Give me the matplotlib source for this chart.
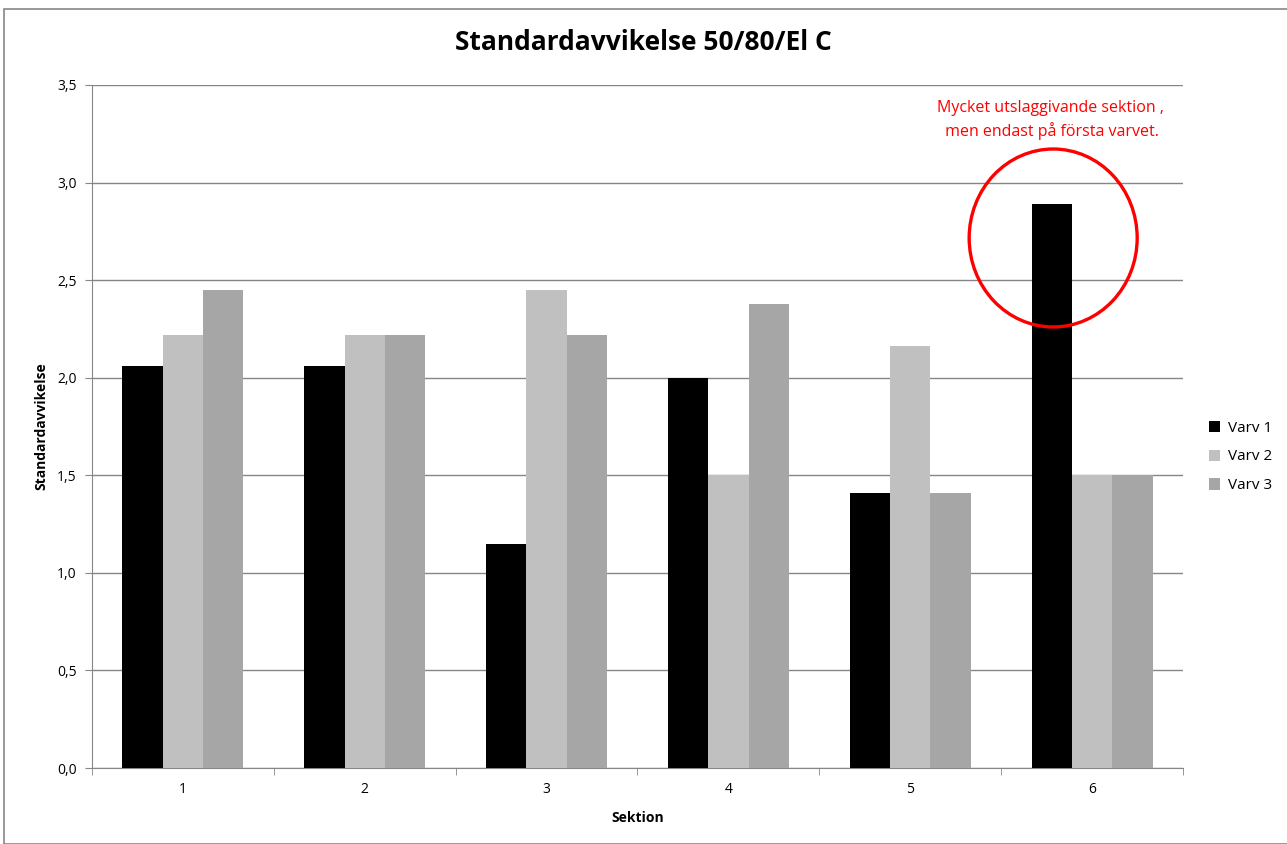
import matplotlib
matplotlib.use("Agg")
import matplotlib.pyplot as plt
from matplotlib.patches import Ellipse, Rectangle
import numpy as np

plt.rcParams['font.family'] = ['Open Sans', 'DejaVu Sans']

sections = ["1", "2", "3", "4", "5", "6"]
varv1 = [2.06, 2.06, 1.15, 2.00, 1.41, 2.89]
varv2 = [2.22, 2.22, 2.45, 1.50, 2.16, 1.50]
varv3 = [2.45, 2.22, 2.22, 2.38, 1.41, 1.50]
series_names = ["Varv 1", "Varv 2", "Varv 3"]
colors = ["#000000", "#C0C0C0", "#A6A6A6"]
yticks = [0.0, 0.5, 1.0, 1.5, 2.0, 2.5, 3.0, 3.5]

W, H = 1287, 844
fig = plt.figure(figsize=(W/100, H/100), dpi=100)
ax = fig.add_axes([92/W, 1-768/H, (1183-92)/W, (768-85)/H])

x = np.arange(len(sections))
bw = 0.222
for i, (vals, name, c) in enumerate(zip([varv1, varv2, varv3], series_names, colors)):
    ax.bar(x + (i-1)*bw, vals, width=bw, color=c, label=name, zorder=3)

ax.set_xlim(-0.5, len(sections)-0.5)
ax.set_ylim(0, 3.5)
ax.set_yticks(yticks)
ax.set_yticklabels([f"{v:.1f}".replace(".", ",") for v in yticks], fontsize=10)
ax.set_xticks(x)
ax.set_xticklabels(sections, fontsize=10)
ax.set_xticks(np.arange(-0.5, len(sections)), minor=True)
ax.tick_params(axis='x', which='major', length=0, pad=10)
ax.tick_params(axis='x', which='minor', length=5, color='#868686')
ax.tick_params(axis='y', length=5, color='#868686', pad=6)
ax.grid(axis='y', color='#868686', linewidth=1, zorder=0)
for s in ['top', 'right']:
    ax.spines[s].set_visible(False)
for s in ['left', 'bottom']:
    ax.spines[s].set_color('#868686')

ax.set_xlabel("Sektion", fontsize=10, fontweight='bold', labelpad=10)
ax.set_ylabel("Standardavvikelse", fontsize=10, fontweight='bold', labelpad=6)

fig.text(0.5, 1-43/H, "Standardavvikelse 50/80/El C", ha='center', va='center',
         fontsize=19, fontweight='bold')

ax.add_patch(Ellipse((4.786, 2.716), 0.924, 0.912, fill=False, edgecolor='#FF0000',
                     linewidth=2.4, zorder=5))
ax.text(4.77, 3.32, "Mycket utslaggivande sektion ,\n men endast på första varvet.",
        color='#FF0000', fontsize=11.5, ha='center', va='center', linespacing=1.45)

leg = ax.legend(loc='center left', bbox_to_anchor=(1195/W, 1-457/H),
                bbox_transform=fig.transFigure, frameon=False, fontsize=11,
                handlelength=0.75, handleheight=0.75, labelspacing=0.9, handletextpad=0.5)

fig.patches.append(Rectangle((4/W, 0), 1.5, 1-9/H, transform=fig.transFigure,
                             fill=False, edgecolor='#868686', linewidth=1.2))

fig.savefig("out.png", dpi=100)
